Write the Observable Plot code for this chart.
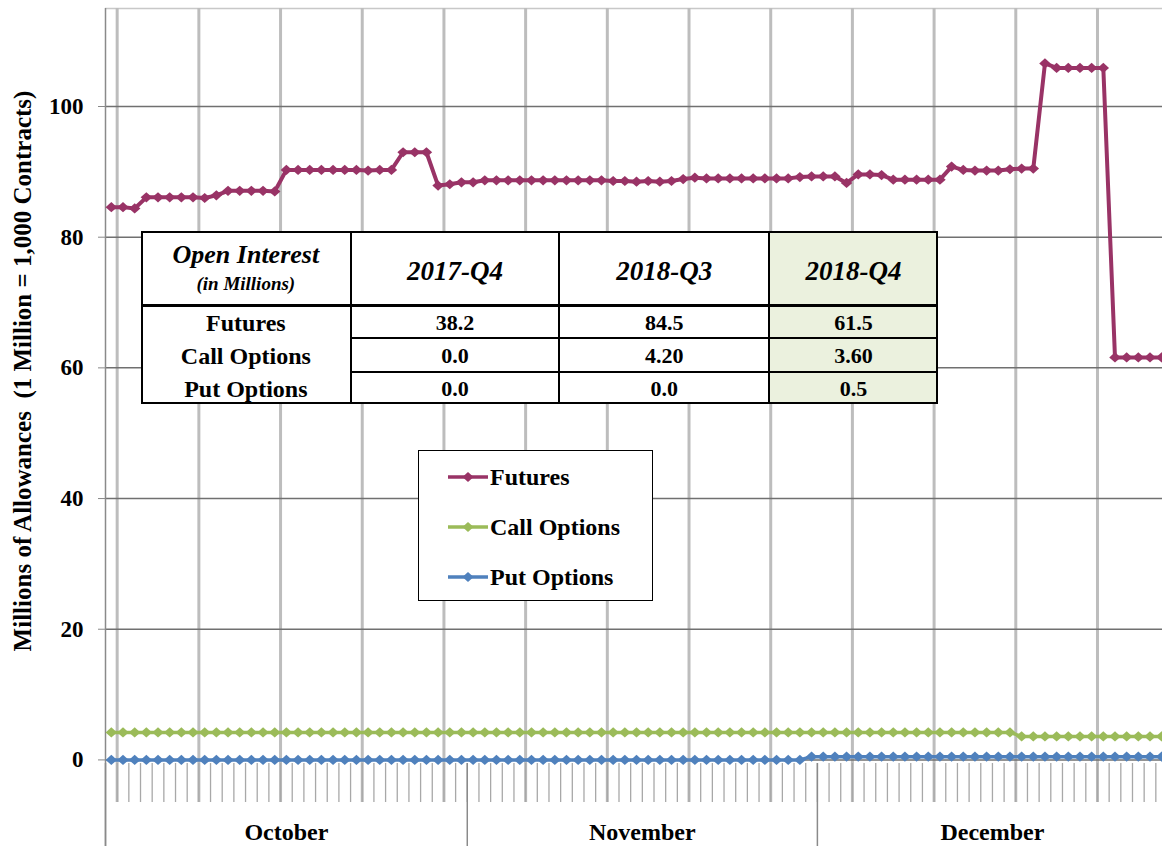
<!DOCTYPE html>
<html><head><meta charset="utf-8">
<script src="https://cdn.jsdelivr.net/npm/d3@7"></script>
<script src="https://cdn.jsdelivr.net/npm/@observablehq/plot@0.6"></script>
<style>
html,body{margin:0;padding:0;background:#fff;overflow:hidden;}
#wrap{position:relative;width:1162px;height:846px;font-family:'Liberation Serif','Times New Roman',serif;font-weight:bold;color:#000;}
.abs{position:absolute;box-sizing:border-box;}
.cell{position:absolute;display:flex;flex-direction:column;align-items:center;justify-content:center;box-sizing:border-box;line-height:1;white-space:nowrap;}
</style></head><body><div id="wrap"></div>
<script>
// ---- data ----
const futures = [
  84.6, 84.6, 84.4,
  86.1, 86.1, 86.1, 86.1, 86.1, 86.0,
  86.4,
  87.1, 87.1, 87.1, 87.1, 87.0,
  90.3, 90.3, 90.3, 90.3, 90.3, 90.3, 90.3, 90.2, 90.3, 90.3,
  93.0, 93.0, 93.0,
  87.9, 88.1, 88.4, 88.4,
  88.7, 88.7, 88.7, 88.7, 88.7, 88.7, 88.7, 88.7, 88.7, 88.7, 88.7, 88.6, 88.6,
  88.5, 88.6, 88.5, 88.6, 88.9, 89.1,
  89.0, 89.0, 89.0, 89.0, 89.0, 89.0, 89.0, 89.0,
  89.2, 89.3, 89.3, 89.3, 88.3,
  89.6, 89.6, 89.5,
  88.8, 88.8, 88.8, 88.8, 88.8,
  90.8, 90.3, 90.2, 90.2, 90.2, 90.4, 90.5, 90.5,
  106.6, 105.9, 105.9, 105.9, 105.9, 105.9,
  61.6, 61.6, 61.6, 61.6, 61.6
];
const callOptions = [
  4.2,4.2,4.2,4.2,4.2,4.2,4.2,4.2,4.2,4.2, 4.2,4.2,4.2,4.2,4.2,4.2,4.2,4.2,4.2,4.2,
  4.2,4.2,4.2,4.2,4.2,4.2,4.2,4.2,4.2,4.2, 4.2,4.2,4.2,4.2,4.2,4.2,4.2,4.2,4.2,4.2,
  4.2,4.2,4.2,4.2,4.2,4.2,4.2,4.2,4.2,4.2, 4.2,4.2,4.2,4.2,4.2,4.2,4.2,4.2,4.2,4.2,
  4.2,4.2,4.2,4.2,4.2,4.2,4.2,4.2,4.2,4.2, 4.2,4.2,4.2,4.2,4.2,4.2,4.2,4.2,
  3.6,3.6,3.6,3.6,3.6,3.6,3.6,3.6,3.6,3.6,3.6,3.6,3.6
];
const putOptions = [
  0,0,0,0,0,0,0,0,0,0, 0,0,0,0,0,0,0,0,0,0, 0,0,0,0,0,0,0,0,0,0,
  0,0,0,0,0,0,0,0,0,0, 0,0,0,0,0,0,0,0,0,0, 0,0,0,0,0,0,0,0,0,0,
  0.5,0.5,0.5,0.5,0.5,0.5,0.5,0.5,0.5,0.5, 0.5,0.5,0.5,0.5,0.5,0.5,0.5,0.5,0.5,0.5,
  0.5,0.5,0.5,0.5,0.5,0.5,0.5,0.5,0.5,0.5, 0.5
];
const startDate = new Date(Date.UTC(2018, 9, 1));
const endDate = new Date(Date.UTC(2018, 11, 31));
const months = ["October", "November", "December"];
const yTicks = [0, 20, 40, 60, 80, 100];
const yDomain = [-0.55, 115];
const seriesNames = ["Futures", "Call Options", "Put Options"];
const seriesColors = ["#993366", "#9bbb59", "#4f81bd"];
const yTitle = "Millions of Allowances  (1 Million = 1,000 Contracts)";
const tableTitle = "Open Interest";
const tableSub = "(in Millions)";
const tableHeader = ["2017-Q4", "2018-Q3", "2018-Q4"];
const tableRows = ["Futures", "Call Options", "Put Options"];
const tableValues = [["38.2", "84.5", "61.5"], ["0.0", "4.20", "3.60"], ["0.0", "0.0", "0.5"]];

// ---- derived ----
const days = d3.utcDay.range(startDate, d3.utcDay.offset(startDate, futures.length));
const rows = days.map((d, i) => ({date: d3.utcHour.offset(d, 12), futures: futures[i], calls: callOptions[i], puts: putOptions[i]}));
const dayBounds = d3.utcDay.range(d3.utcDay.offset(startDate, 1), d3.utcDay.offset(endDate, 1));
const weekBounds = d3.range(13).map(k => d3.utcDay.offset(startDate, 1 + 7 * k));
const monthStarts = d3.utcMonth.range(startDate, endDate);
const monthMids = monthStarts.map(m => {
  const e = Math.min(+d3.utcMonth.offset(m, 1), +endDate);
  return new Date((+m + e) / 2);
});

const diamond = {draw(ctx, size) {
  const s = Math.sqrt(size);
  const w = s * 0.72, h = s * 0.64;
  ctx.moveTo(0, -h); ctx.lineTo(w, 0); ctx.lineTo(0, h); ctx.lineTo(-w, 0); ctx.closePath();
}};

const keys = ["futures", "calls", "puts"];
const seriesMarks = keys.flatMap((k, i) => [
  Plot.line(rows, {x: "date", y: k, stroke: seriesColors[i], strokeWidth: i === 0 ? 4 : 3.5}),
  Plot.dot(rows, {x: "date", y: k, symbol: diamond, r: 4.5, fill: seriesColors[i], stroke: null})
]);

const chart = Plot.plot({
  width: 1162, height: 846,
  marginLeft: 105, marginRight: -5, marginTop: 8, marginBottom: 83,
  style: {fontFamily: "'Liberation Serif','Times New Roman',serif", fontWeight: "bold", fontSize: "22px", background: "white", color: "#000"},
  x: {type: "utc", domain: [startDate, endDate]},
  y: {domain: yDomain},
  marks: [
    Plot.ruleY([yDomain[1]], {stroke: "#c8c8c8", strokeWidth: 1.5}),
    Plot.ruleX(weekBounds, {stroke: "#bdbdbd", strokeWidth: 3, insetBottom: -39}),
    Plot.gridY({ticks: yTicks, stroke: "#707070", strokeOpacity: 1, strokeWidth: 1.5}),
    Plot.axisX({ticks: dayBounds, tickSize: 39, tickFormat: () => "", stroke: "#a8a8a8", strokeWidth: 1.3}),
    Plot.axisX({ticks: monthStarts, tickSize: 83, tickFormat: () => "", stroke: "#8a8a8a", strokeWidth: 1.5}),
    Plot.axisX({ticks: monthMids, tickSize: 0, tickPadding: 59, tickFormat: d => months[d.getUTCMonth() - 9], fontSize: 24}),
    Plot.axisY({ticks: yTicks, tickSize: 7, tickPadding: 15, stroke: "#888", label: null, fontSize: 23}),
    Plot.ruleX([startDate], {stroke: "#8a8a8a", strokeWidth: 1.5, insetBottom: -83}),
    ...seriesMarks
  ]
});

const wrap = document.getElementById("wrap");
wrap.appendChild(chart);

// y-axis title
d3.select(chart).append("text")
  .attr("transform", "translate(31,371) rotate(-90)")
  .attr("text-anchor", "middle")
  .attr("xml:space", "preserve")
  .style("white-space", "pre")
  .attr("font-size", 25)
  .attr("font-weight", "bold")
  .attr("fill", "#000")
  .text(yTitle);

// ---- table ----
const T = {left: 141, top: 231, width: 797, height: 173};
const colEdges = [0, 209.7, 418.3, 628, 797];
const rowEdges = [0, 74, 107.3, 140.7, 173];
const table = document.createElement("div");
table.className = "abs";
Object.assign(table.style, {left: T.left + "px", top: T.top + "px", width: T.width + "px", height: T.height + "px", background: "#fff"});
wrap.appendChild(table);
function add(parent, cls, styles, html) {
  const el = document.createElement("div");
  el.className = cls;
  Object.assign(el.style, styles);
  if (html != null) el.innerHTML = html;
  parent.appendChild(el);
  return el;
}
// highlighted column
add(table, "abs", {left: colEdges[3] + "px", top: 0, width: (colEdges[4] - colEdges[3]) + "px", height: T.height + "px", background: "#ebf1de"});
// vertical dividers
colEdges.slice(1, 4).forEach(x => add(table, "abs", {left: (x - 1) + "px", top: 0, width: "2px", height: T.height + "px", background: "#000"}));
// header line
add(table, "abs", {left: 0, top: (rowEdges[1] - 1.5) + "px", width: T.width + "px", height: "3px", background: "#000"});
// row lines (data columns only)
rowEdges.slice(2, 4).forEach(y => add(table, "abs", {left: colEdges[1] + "px", top: (y - 1) + "px", width: (colEdges[4] - colEdges[1]) + "px", height: "2px", background: "#000"}));
// outer border
add(table, "abs", {left: 0, top: 0, width: T.width + "px", height: T.height + "px", border: "2.5px solid #000"});
// header texts
add(table, "cell", {left: 0, top: 0, width: colEdges[1] + "px", height: rowEdges[1] + "px", fontStyle: "italic"},
  `<div style="font-size:26px;margin-top:-2px">${tableTitle}</div><div style="font-size:19px;margin-top:6px">${tableSub}</div>`);
tableHeader.forEach((h, j) => add(table, "cell", {left: colEdges[j + 1] + "px", top: 0, width: (colEdges[j + 2] - colEdges[j + 1]) + "px", height: rowEdges[1] + "px", fontStyle: "italic", fontSize: "27px", paddingTop: "6px"}, h));
tableRows.forEach((r, i) => {
  add(table, "cell", {left: 0, top: rowEdges[i + 1] + "px", width: colEdges[1] + "px", height: (rowEdges[i + 2] - rowEdges[i + 1]) + "px", fontSize: "24px", paddingTop: "3px"}, r);
  tableValues[i].forEach((v, j) => add(table, "cell", {left: colEdges[j + 1] + "px", top: rowEdges[i + 1] + "px", width: (colEdges[j + 2] - colEdges[j + 1]) + "px", height: (rowEdges[i + 2] - rowEdges[i + 1]) + "px", fontSize: "22px", paddingTop: "3px"}, v));
});

// ---- legend ----
const L = {left: 418, top: 450, width: 235, height: 151};
const legend = add(wrap, "abs", {left: L.left + "px", top: L.top + "px", width: L.width + "px", height: L.height + "px", border: "1.5px solid #000", background: "#fff"});
seriesNames.forEach((name, i) => {
  const cy = 26 + 50 * i;
  const item = add(legend, "abs", {left: "28px", top: (cy - 14) + "px", height: "28px", display: "flex", alignItems: "center", fontSize: "24px", whiteSpace: "nowrap"});
  item.innerHTML = `<svg width="42" height="28" style="flex:none"><line x1="1" y1="14" x2="41" y2="14" stroke="${seriesColors[i]}" stroke-width="3.5"/><path d="M21,9L26.5,14L21,19L15.5,14Z" fill="${seriesColors[i]}"/></svg><span style="margin-left:1px">${name}</span>`;
});
</script></body></html>
